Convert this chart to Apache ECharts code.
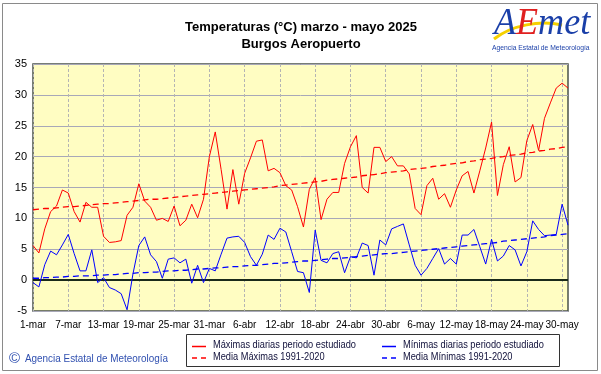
<!DOCTYPE html>
<html>
<head>
<meta charset="utf-8">
<script src="https://cdn.jsdelivr.net/npm/echarts@6/dist/echarts.min.js"></script>
<style>
html,body{margin:0;padding:0;background:#fff;}
#chart{width:601px;height:374px;}
</style>
</head>
<body>
<div id="chart"></div>
<script>
// ---- Data ----
const months = [['mar', 31], ['abr', 30], ['may', 31]];
const yTicks = [-5, 0, 5, 10, 15, 20, 25, 30, 35];

const tmax = [5.6,4.4,8.3,11.1,12.0,14.6,14.1,11.1,9.4,12.6,11.8,11.8,7.1,6.1,6.2,6.4,10.5,11.8,15.6,12.8,
  11.8,9.7,10.0,9.5,12.0,8.8,9.7,12.3,10.1,13.1,20.0,24.0,17.9,11.5,17.9,12.3,17.3,19.8,22.5,22.7,
  17.7,18.1,17.4,15.3,14.6,11.9,8.6,14.7,16.6,9.8,13.1,14.2,14.2,18.9,21.6,23.4,15.0,14.1,21.5,21.5,
  19.2,20.0,18.5,18.5,17.2,11.6,10.6,15.3,16.5,13.1,14.0,11.8,14.6,16.9,17.6,14.1,17.7,21.4,25.6,13.7,
  18.7,21.6,15.9,16.6,22.6,25.2,21.0,26.2,28.7,31.1,31.9,31.1];

const tmin = [-0.4,-1.1,2.5,4.7,4.1,5.7,7.4,4.3,1.5,1.5,4.9,-0.4,0.4,-1.2,-1.6,-2.2,-4.8,1.0,5.6,7.0,
  4.1,3.0,0.3,3.4,3.6,2.8,3.4,-0.5,2.4,-0.4,1.9,1.5,4.2,6.8,7.0,7.1,6.1,3.8,2.4,4.2,
  7.3,6.6,8.4,7.8,4.6,1.4,1.2,-2.0,8.1,3.2,2.8,4.3,4.6,1.2,3.8,3.6,6.0,5.6,0.8,6.5,
  5.7,8.3,8.7,9.1,5.7,2.4,0.8,1.9,3.5,5.1,2.6,3.5,2.6,7.3,7.3,8.2,5.4,2.6,6.6,3.1,
  3.9,5.6,4.9,2.3,4.6,9.6,8.2,7.2,7.3,7.4,12.3,8.9];

const meanMax = [11.4,11.5,11.6,11.6,11.7,11.8,11.9,11.9,12.0,12.1,12.2,12.3,12.4,12.4,12.5,12.6,12.7,12.8,12.9,13.0,
  13.1,13.1,13.2,13.3,13.4,13.5,13.6,13.7,13.8,13.9,14.0,14.1,14.2,14.3,14.4,14.5,14.6,14.7,14.8,14.9,
  15.0,15.1,15.3,15.4,15.5,15.6,15.7,15.8,15.9,16.0,16.2,16.3,16.4,16.5,16.6,16.7,16.9,17.0,17.1,17.2,
  17.4,17.5,17.6,17.7,17.9,18.0,18.1,18.2,18.4,18.5,18.6,18.8,18.9,19.0,19.2,19.3,19.5,19.6,19.7,19.9,
  20.0,20.2,20.3,20.4,20.6,20.7,20.9,21.0,21.2,21.3,21.5,21.6];

const meanMin = [0.3,0.3,0.4,0.4,0.5,0.5,0.6,0.6,0.7,0.7,0.7,0.8,0.8,0.9,0.9,1.0,1.1,1.1,1.2,1.2,
  1.3,1.3,1.4,1.5,1.5,1.6,1.6,1.7,1.8,1.8,1.9,2.0,2.0,2.1,2.2,2.2,2.3,2.4,2.4,2.5,
  2.6,2.7,2.7,2.8,2.9,3.0,3.1,3.1,3.2,3.3,3.4,3.5,3.5,3.6,3.7,3.8,3.9,4.0,4.1,4.2,
  4.3,4.3,4.4,4.5,4.6,4.7,4.8,4.9,5.0,5.1,5.2,5.3,5.4,5.5,5.6,5.7,5.8,5.9,6.0,6.1,
  6.3,6.4,6.5,6.6,6.7,6.8,6.9,7.0,7.2,7.3,7.4,7.5];

const titleLines = ['Temperaturas (°C) marzo - mayo 2025', 'Burgos Aeropuerto'];
const seriesNames = ['Máximas diarias periodo estudiado', 'Media Máximas 1991-2020',
                     'Mínimas diarias periodo estudiado', 'Media Mínimas 1991-2020'];

// categories built from month lengths
const categories = [];
months.forEach(([m, n]) => { for (let d = 1; d <= n; d++) categories.push(d + '-' + m); });

const chart = echarts.init(document.getElementById('chart'), null, {renderer: 'canvas'});
const FONT = '"Liberation Sans", Arial, sans-serif';

const RED = '#ff0000', BLUE = '#0000ff';

function legendItem(x, y, color, dashed, text) {
  return [
    {type: 'line', shape: {x1: x, y1: y, x2: x + 14, y2: y},
      style: {stroke: color, lineWidth: 1.5, lineDash: dashed ? [5, 4] : null}, z: 10},
    {type: 'text', x: x + 21, y: y - 6, scaleX: 0.925, z: 10,
      style: {text: text, fontSize: 10, fill: '#10103a', fontFamily: FONT}}
  ];
}

const option = {
  animation: false,
  backgroundColor: '#ffffff',
  textStyle: {fontFamily: FONT},
  title: {
    text: titleLines.join('\n'),
    left: 296, top: 14, textAlign: 'center',
    textStyle: {fontSize: 13, fontWeight: 'bold', color: '#000', lineHeight: 17, fontFamily: FONT}
  },
  grid: {
    left: 33, right: 33, top: 64, bottom: 63,
    show: true, backgroundColor: '#fffdc2', borderColor: '#4a524a', borderWidth: 1.5
  },
  xAxis: {
    type: 'category', data: categories, boundaryGap: false,
    axisLine: {show: false},
    axisTick: {show: false},
    axisLabel: {interval: 5, fontSize: 10, color: '#000', margin: 9, fontFamily: FONT, hideOverlap: false},
    splitLine: {show: true, interval: 5, lineStyle: {color: '#b4b4b4', type: [3, 2], width: 1}}
  },
  yAxis: {
    type: 'value', min: yTicks[0], max: yTicks[yTicks.length - 1], interval: 5,
    axisLine: {show: false}, axisTick: {show: false},
    axisLabel: {fontSize: 11, color: '#000', margin: 6, fontFamily: FONT},
    splitLine: {show: true, lineStyle: {color: '#a8a8b8', width: 1}}
  },
  series: [
    {
      name: seriesNames[0], type: 'line', data: tmax, symbol: 'none', z: 5,
      lineStyle: {color: RED, width: 1}, itemStyle: {color: RED},
      markLine: {
        silent: true, symbol: 'none', label: {show: false},
        lineStyle: {color: '#1a2a1a', width: 2, type: 'solid'},
        data: [{yAxis: 0}]
      }
    },
    {
      name: seriesNames[1], type: 'line', data: meanMax, symbol: 'none', z: 4,
      lineStyle: {color: RED, width: 1.3, type: [6, 4]}, itemStyle: {color: RED}
    },
    {
      name: seriesNames[2], type: 'line', data: tmin, symbol: 'none', z: 5,
      lineStyle: {color: BLUE, width: 1}, itemStyle: {color: BLUE}
    },
    {
      name: seriesNames[3], type: 'line', data: meanMin, symbol: 'none', z: 4,
      lineStyle: {color: BLUE, width: 1.3, type: [6, 4]}, itemStyle: {color: BLUE}
    }
  ],
  graphic: [
    // outer frame
    {type: 'rect', shape: {x: 2.5, y: 3.5, width: 595, height: 367}, style: {fill: null, stroke: '#8a8a8a', lineWidth: 1}, z: -1},
    // legend box
    {type: 'rect', shape: {x: 186.5, y: 334.5, width: 373, height: 32}, style: {fill: '#fff', stroke: '#333', lineWidth: 1}, z: 9},
    ...legendItem(192, 346.5, RED, false, seriesNames[0]),
    ...legendItem(192, 358, RED, true, seriesNames[1]),
    ...legendItem(382, 346.5, BLUE, false, seriesNames[2]),
    ...legendItem(382, 358, BLUE, true, seriesNames[3]),
    // footer
    {type: 'text', x: 9, y: 351, style: {text: '©', fontSize: 15, fill: '#3050b0', fontFamily: FONT}},
    {type: 'text', x: 25, y: 353, scaleX: 0.9, style: {text: 'Agencia Estatal de Meteorología', fontSize: 11, fill: '#3050b0', fontFamily: FONT}},
    // logo
    {type: 'bezierCurve', shape: {x1: 494, y1: 39, cpx1: 512, cpy1: 25, cpx2: 540, cpy2: 20, x2: 562, y2: 25},
      style: {stroke: '#f5d000', lineWidth: 3, fill: null}, z: 3},
    {type: 'text', x: 494, y: 5, z: 4, scaleX: 0.95, style: {
      rich: {
        a: {fontSize: 38, fontStyle: 'italic', fill: '#1a3fa8', fontFamily: '"Liberation Serif", serif'},
        e: {fontSize: 38, fontStyle: 'italic', fill: '#e02020', fontFamily: '"Liberation Serif", serif'}
      },
      text: '{a|A}{e|E}{a|met}'
    }},
    {type: 'text', x: 492, y: 44, scaleX: 0.9, style: {text: 'Agencia Estatal de Meteorología', fontSize: 7.5, fill: '#1a3fa8', fontFamily: FONT}}
  ]
};
chart.setOption(option);
</script>
</body>
</html>
